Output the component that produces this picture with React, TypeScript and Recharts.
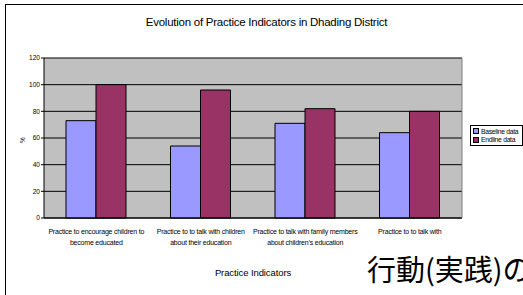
import React from 'react';
import { BarChart, Bar, XAxis, YAxis, CartesianGrid, Legend } from 'recharts';

const BASELINE = '#9999ff';
const ENDLINE = '#993366';
const PLOT_BG = '#c0c0c0';
const FONT = '"Liberation Sans", Arial, sans-serif';

const categories = [
  'Practice to encourage children to|become educated',
  'Practice to to talk with children|about their education',
  'Practice to talk with family members|about children\u2019s education',
  'Practice to  to talk with|',
];
const baselineValues = [73, 54, 71, 64];
const endlineValues = [100, 96, 82, 80];
const yTicks = [0, 20, 40, 60, 80, 100, 120];

const data = categories.map((name, i) => ({
  name,
  baseline: baselineValues[i],
  endline: endlineValues[i],
}));

function CategoryTick({ x, y, payload }: any) {
  const [line1, line2] = String(payload.value).split('|');
  return (
    <text x={x} y={y} textAnchor="middle" fontSize={7} fill="#000" fontFamily={FONT} letterSpacing={-0.2}>
      <tspan x={x} dy={7.5}>{line1}</tspan>
      {line2 ? <tspan x={x} dy={11}>{line2}</tspan> : null}
    </text>
  );
}

function LegendBox() {
  const items = [
    { label: 'Baseline data', color: BASELINE },
    { label: 'Endline data', color: ENDLINE },
  ];
  return (
    <div style={{ border: '1px solid #000', background: '#fff', width: 53, padding: '1px 0 1px 2px', boxSizing: 'border-box' }}>
      {items.map((it) => (
        <div key={it.label} style={{ display: 'flex', alignItems: 'center', height: 8.5, fontFamily: FONT, fontSize: 6.8, letterSpacing: -0.3, color: '#000', whiteSpace: 'nowrap' }}>
          <span style={{ width: 4, height: 4, background: it.color, border: '0.5px solid #000', marginRight: 2, flexShrink: 0 }} />
          {it.label}
        </div>
      ))}
    </div>
  );
}

export default function App() {
  return (
    <div style={{ position: 'fixed', left: 0, top: 0, width: 523, height: 295, overflow: 'hidden', background: '#fff' }}>
      {/* outer frame of the chart object, runs off the page */}
      <div style={{ position: 'absolute', left: 5, top: 4, width: 600, height: 400, border: '1px solid #000' }} />

      <div style={{ position: 'absolute', left: 0, top: 0 }}>
        <BarChart
          width={523}
          height={295}
          data={data}
          margin={{ top: 58, right: 0, bottom: 0, left: 0 }}
          barCategoryGap={22}
          barGap={0}
        >
          <CartesianGrid vertical={false} stroke="#000" fill={PLOT_BG} fillOpacity={1} yAxisId="left" />
          <XAxis
            dataKey="name"
            tick={<CategoryTick />}
            tickLine={false}
            axisLine={{ stroke: '#000' }}
            interval={0}
            height={77}
          />
          <YAxis
            yAxisId="left"
            domain={[0, 120]}
            ticks={yTicks}
            width={44}
            tick={{ fontSize: 6.6, fill: '#000', fontFamily: FONT }}
            tickSize={3}
            tickMargin={1}
            axisLine={{ stroke: '#000' }}
            tickLine={{ stroke: '#000' }}
            interval={0}
          />
          <YAxis
            yAxisId="right"
            orientation="right"
            domain={[0, 120]}
            width={61}
            tick={false}
            tickLine={false}
            axisLine={{ stroke: '#808080' }}
          />
          <Legend
            layout="vertical"
            verticalAlign="middle"
            align="center"
            wrapperStyle={{ left: 470, top: 125, width: 53 }}
            content={() => <LegendBox />}
          />
          <Bar yAxisId="left" dataKey="baseline" name="Baseline data" fill={BASELINE} stroke="#000" strokeWidth={1} isAnimationActive={false} />
          <Bar yAxisId="left" dataKey="endline" name="Endline data" fill={ENDLINE} stroke="#000" strokeWidth={1} isAnimationActive={false} />
        </BarChart>
      </div>

      <div style={{ position: 'absolute', left: 0, width: 533, top: 15, textAlign: 'center', fontFamily: FONT, fontSize: 11.5, letterSpacing: -0.25, color: '#000', lineHeight: '14px', whiteSpace: 'nowrap' }}>
        Evolution of Practice Indicators in Dhading District
      </div>
      <div style={{ position: 'absolute', left: 17, top: 136, width: 12, textAlign: 'center', transform: 'rotate(-90deg)', fontFamily: FONT, fontSize: 6.6, color: '#000', lineHeight: '8px' }}>
        %
      </div>
      <div style={{ position: 'absolute', left: 153, width: 200, top: 267, textAlign: 'center', fontFamily: FONT, fontSize: 9.5, letterSpacing: -0.1, color: '#000', lineHeight: '12px' }}>
        Practice Indicators
      </div>
      <div style={{ position: 'absolute', left: 367, top: 254, whiteSpace: 'nowrap', fontFamily: '"Noto Sans CJK JP", sans-serif', fontSize: 29, lineHeight: 1, color: '#000' }}>
        行動(実践)の
      </div>
    </div>
  );
}
